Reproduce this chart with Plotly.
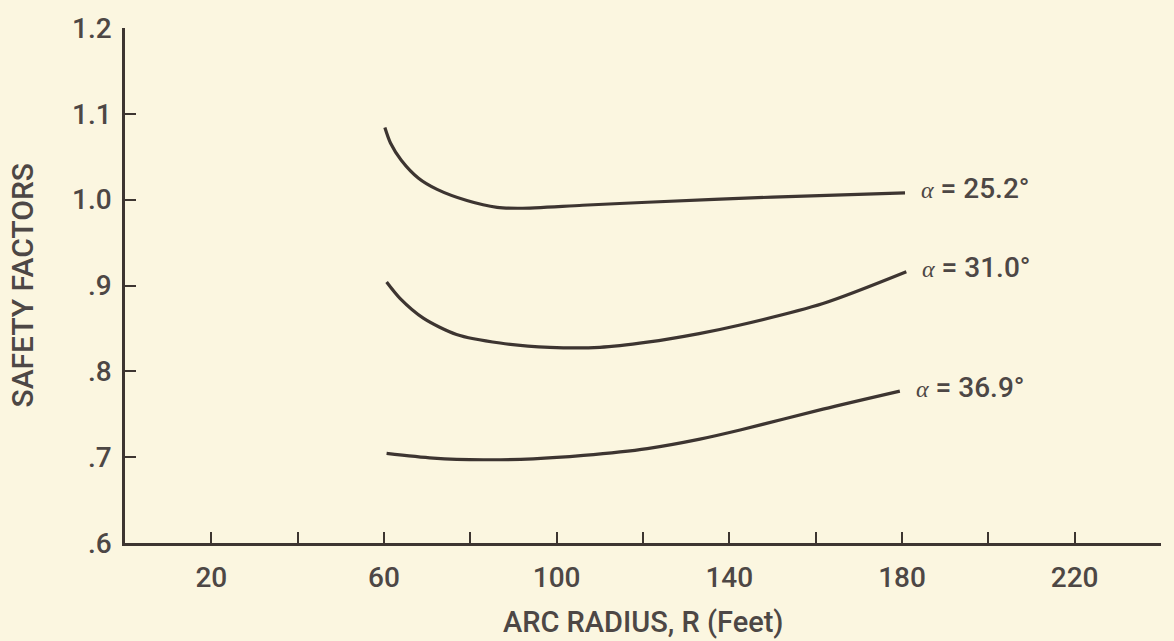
import plotly.graph_objects as go

# ---- data ----
r_252 = [60.2, 61.5, 64.0, 68.0, 72.3, 79.2, 86.2, 91.5, 106.0, 121.0, 150.0, 180.7]
sf_252 = [1.084, 1.066, 1.046, 1.025, 1.012, 0.999, 0.991, 0.990, 0.9935, 0.997, 1.003, 1.008]

r_310 = [60.6, 63.7, 69.1, 76.8, 86.9, 98.4, 110.0, 121.0, 133.0, 142.5, 161.7, 181.0]
sf_310 = [0.904, 0.885, 0.862, 0.843, 0.833, 0.828, 0.828, 0.834, 0.844, 0.854, 0.879, 0.916]

r_369 = [60.6, 71.4, 83.0, 94.6, 106.2, 121.0, 133.2, 142.5, 161.7, 179.5]
sf_369 = [0.7045, 0.699, 0.697, 0.698, 0.702, 0.710, 0.721, 0.7316, 0.756, 0.777]

curve_labels = ["25.2°", "31.0°", "36.9°"]

x_tickvals = [20, 40, 60, 80, 100, 120, 140, 160, 180, 200, 220, 240]
x_ticktext = ["20", "", "60", "", "100", "", "140", "", "180", "", "220", ""]
y_tickvals = [0.6, 0.7, 0.8, 0.9, 1.0, 1.1, 1.2]
y_ticktext = [".6", ".7", ".8", ".9", "1.0", "1.1", "1.2"]

BG = "#fbf6e0"
INK = "#3d3531"
TXT = "#4d4745"
FONT = "Roboto, Liberation Sans, Arial, sans-serif"
W, H = 1174, 641
ML, MR, MT, MB = 125, 13, 24, 98

fig = go.Figure()
series = [(r_252, sf_252), (r_310, sf_310), (r_369, sf_369)]
for xs, ys in series:
    fig.add_trace(go.Scatter(
        x=xs, y=ys, mode="lines",
        line=dict(color=INK, width=3.2, shape="spline", smoothing=0.8),
        showlegend=False, hoverinfo="skip"))

for (xs, ys), lab in zip(series, curve_labels):
    fig.add_annotation(
        x=xs[-1], y=ys[-1], xref="x", yref="y",
        text='<span style="font-family:Liberation Serif, serif;font-size:24px;font-weight:400"><i>α</i></span> = ' + lab,
        showarrow=False, xanchor="left", yanchor="middle",
        xshift=14, yshift=4,
        font=dict(family=FONT, size=28, color=TXT, weight=500))

fig.add_annotation(
    x=(22 - ML) / (W - ML - MR), y=0.5, xref="paper", yref="paper",
    xanchor="center", yanchor="middle",
    text="SAFETY FACTORS", showarrow=False, textangle=-90,
    font=dict(family=FONT, size=30, color=TXT, weight=500))

fig.add_annotation(
    x=0.5, y=0, xref="paper", yref="paper", yanchor="middle",
    text="ARC RADIUS, R (Feet)", showarrow=False, yshift=-79,
    font=dict(family=FONT, size=29, color=TXT, weight=500))

fig.update_layout(
    width=W, height=H,
    margin=dict(l=ML, r=MR, t=MT, b=MB),
    paper_bgcolor=BG, plot_bgcolor=BG,
    font=dict(family=FONT, size=28, color=TXT, weight=500),
)

fig.update_xaxes(
    range=[0, 240], showgrid=False, zeroline=False,
    showline=True, linecolor=INK, linewidth=2.5,
    ticks="inside", ticklen=11, tickwidth=2, tickcolor=INK,
    tickvals=x_tickvals, ticktext=x_ticktext,
    tickfont=dict(family=FONT, size=28, color=TXT, weight=500),
    ticklabelstandoff=8)
fig.update_yaxes(
    range=[0.6, 1.2], showgrid=False, zeroline=False,
    showline=True, linecolor=INK, linewidth=2.5,
    ticks="inside", ticklen=11, tickwidth=2, tickcolor=INK,
    tickvals=y_tickvals, ticktext=y_ticktext,
    tickfont=dict(family=FONT, size=28, color=TXT, weight=500),
    ticklabelstandoff=5)

fig.write_html("out.html")
